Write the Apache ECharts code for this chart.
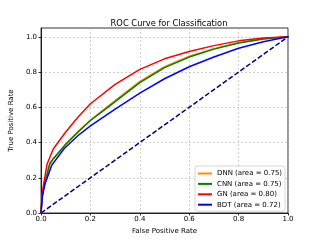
<!DOCTYPE html>
<html>
<head>
<meta charset="utf-8">
<script src="https://cdn.jsdelivr.net/npm/echarts@6/dist/echarts.min.js"></script>
<style>html,body{margin:0;padding:0;background:#fff}#c{width:320px;height:240px}</style>
</head>
<body>
<div id="c"></div>
<script>
var titleText = 'ROC Curve for Classification';
var xName = 'False Positive Rate';
var yName = 'True Positive Rate';
var tickValues = [0, 0.2, 0.4, 0.6, 0.8, 1.0];

var dnnFpr = [0, 0.004, 0.01, 0.035, 0.05, 0.1, 0.15, 0.2, 0.27, 0.3, 0.4, 0.5, 0.6, 0.7, 0.8, 0.9, 1.0];
var dnnTpr = [0, 0.085, 0.135, 0.27, 0.305, 0.39, 0.462, 0.528, 0.605, 0.638, 0.747, 0.831, 0.89, 0.933, 0.967, 0.989, 1.0];
var cnnFpr = [0, 0.004, 0.01, 0.035, 0.05, 0.1, 0.15, 0.2, 0.27, 0.3, 0.4, 0.5, 0.6, 0.7, 0.8, 0.9, 1.0];
var cnnTpr = [0, 0.09, 0.14, 0.28, 0.31, 0.39, 0.46, 0.525, 0.6, 0.632, 0.74, 0.825, 0.885, 0.93, 0.965, 0.988, 1.0];
var gnFpr = [0, 0.004, 0.01, 0.025, 0.05, 0.1, 0.15, 0.2, 0.3, 0.4, 0.5, 0.6, 0.7, 0.8, 0.9, 1.0];
var gnTpr = [0, 0.093, 0.16, 0.28, 0.365, 0.46, 0.545, 0.62, 0.73, 0.815, 0.875, 0.917, 0.95, 0.977, 0.993, 1.0];
var bdtFpr = [0, 0.005, 0.015, 0.043, 0.093, 0.15, 0.2, 0.3, 0.4, 0.5, 0.6, 0.7, 0.8, 0.9, 1.0];
var bdtTpr = [0, 0.09, 0.16, 0.27, 0.365, 0.44, 0.495, 0.59, 0.68, 0.762, 0.83, 0.885, 0.935, 0.972, 1.0];
var diagFpr = [0, 1];
var diagTpr = [0, 1];

var names = ['DNN (area = 0.75)', 'CNN (area = 0.75)', 'GN (area = 0.80)', 'BDT (area = 0.72)'];
var colors = ['#ff8c00', '#008000', '#ff0000', '#0000ff'];

function pairs(xs, ys) { return xs.map(function (x, i) { return [x, ys[i]]; }); }

var FONT = 'DejaVu Sans';
var chart = echarts.init(document.getElementById('c'), null, { renderer: 'canvas' });

var curves = [pairs(dnnFpr, dnnTpr), pairs(cnnFpr, cnnTpr), pairs(gnFpr, gnTpr), pairs(bdtFpr, bdtTpr)];
var series = curves.map(function (d, i) {
  return {
    name: names[i], type: 'line', data: d, showSymbol: false, symbol: 'none',
    smooth: false,
    lineStyle: { color: colors[i], width: 1.5, join: 'round', cap: 'round' }, itemStyle: { color: colors[i] },
    animation: false, z: 3 + i
  };
});
series.push({
  type: 'line', data: pairs(diagFpr, diagTpr), showSymbol: false, symbol: 'none',
  lineStyle: { color: '#000080', width: 1.5, type: [5, 2.2] }, animation: false, z: 2
});

chart.setOption({
  animation: false,
  title: {
    text: titleText, left: 164, top: 15, textAlign: 'center',
    textStyle: { fontFamily: FONT, fontSize: 8.3, fontWeight: 'normal', color: '#000' }
  },
  grid: { left: 40, top: 28, width: 248, height: 185, show: true, borderColor: '#000', borderWidth: 0.8, backgroundColor: 'transparent' },
  legend: {
    orient: 'vertical', left: 195, top: 166,
    padding: [3, 3, 2, 3],
    backgroundColor: 'rgba(255,255,255,0.85)', borderColor: '#cccccc', borderWidth: 0.8, borderRadius: 2,
    itemWidth: 14, itemHeight: 2, itemGap: 1.4, icon: 'rect',
    data: names,
    textStyle: { fontFamily: FONT, fontSize: 7, color: '#000', lineHeight: 9, padding: [0, 0, 0, 0] }
  },
  xAxis: {
    type: 'value', min: 0, max: 1, interval: 0.2,
    name: xName, nameLocation: 'middle', nameGap: 15,
    nameTextStyle: { fontFamily: FONT, fontSize: 7, color: '#000' },
    axisLine: { show: true, lineStyle: { color: '#000', width: 0.8 } },
    axisTick: { show: true, length: 2.5, lineStyle: { color: '#000', width: 0.8 } },
    axisLabel: { fontFamily: FONT, fontSize: 7, color: '#000', margin: 3, formatter: function (v) { return v.toFixed(1); } },
    splitLine: { show: true, lineStyle: { color: '#b0b0b0', width: 0.6, type: [2, 2] } }
  },
  yAxis: {
    type: 'value', min: 0, max: 1.05,
    name: yName, nameLocation: 'middle', nameGap: 24,
    nameTextStyle: { fontFamily: FONT, fontSize: 7, color: '#000' },
    axisLine: { show: true, lineStyle: { color: '#000', width: 0.8 } },
    axisTick: { show: true, length: 2.5, customValues: tickValues, lineStyle: { color: '#000', width: 0.8 } },
    axisLabel: { fontFamily: FONT, fontSize: 7, color: '#000', margin: 4, customValues: tickValues, formatter: function (v) { return v.toFixed(1); } },
    splitLine: { show: true, lineStyle: { color: '#b0b0b0', width: 0.6, type: [2, 2] } }
  },
  series: series
});
</script>
</body>
</html>
